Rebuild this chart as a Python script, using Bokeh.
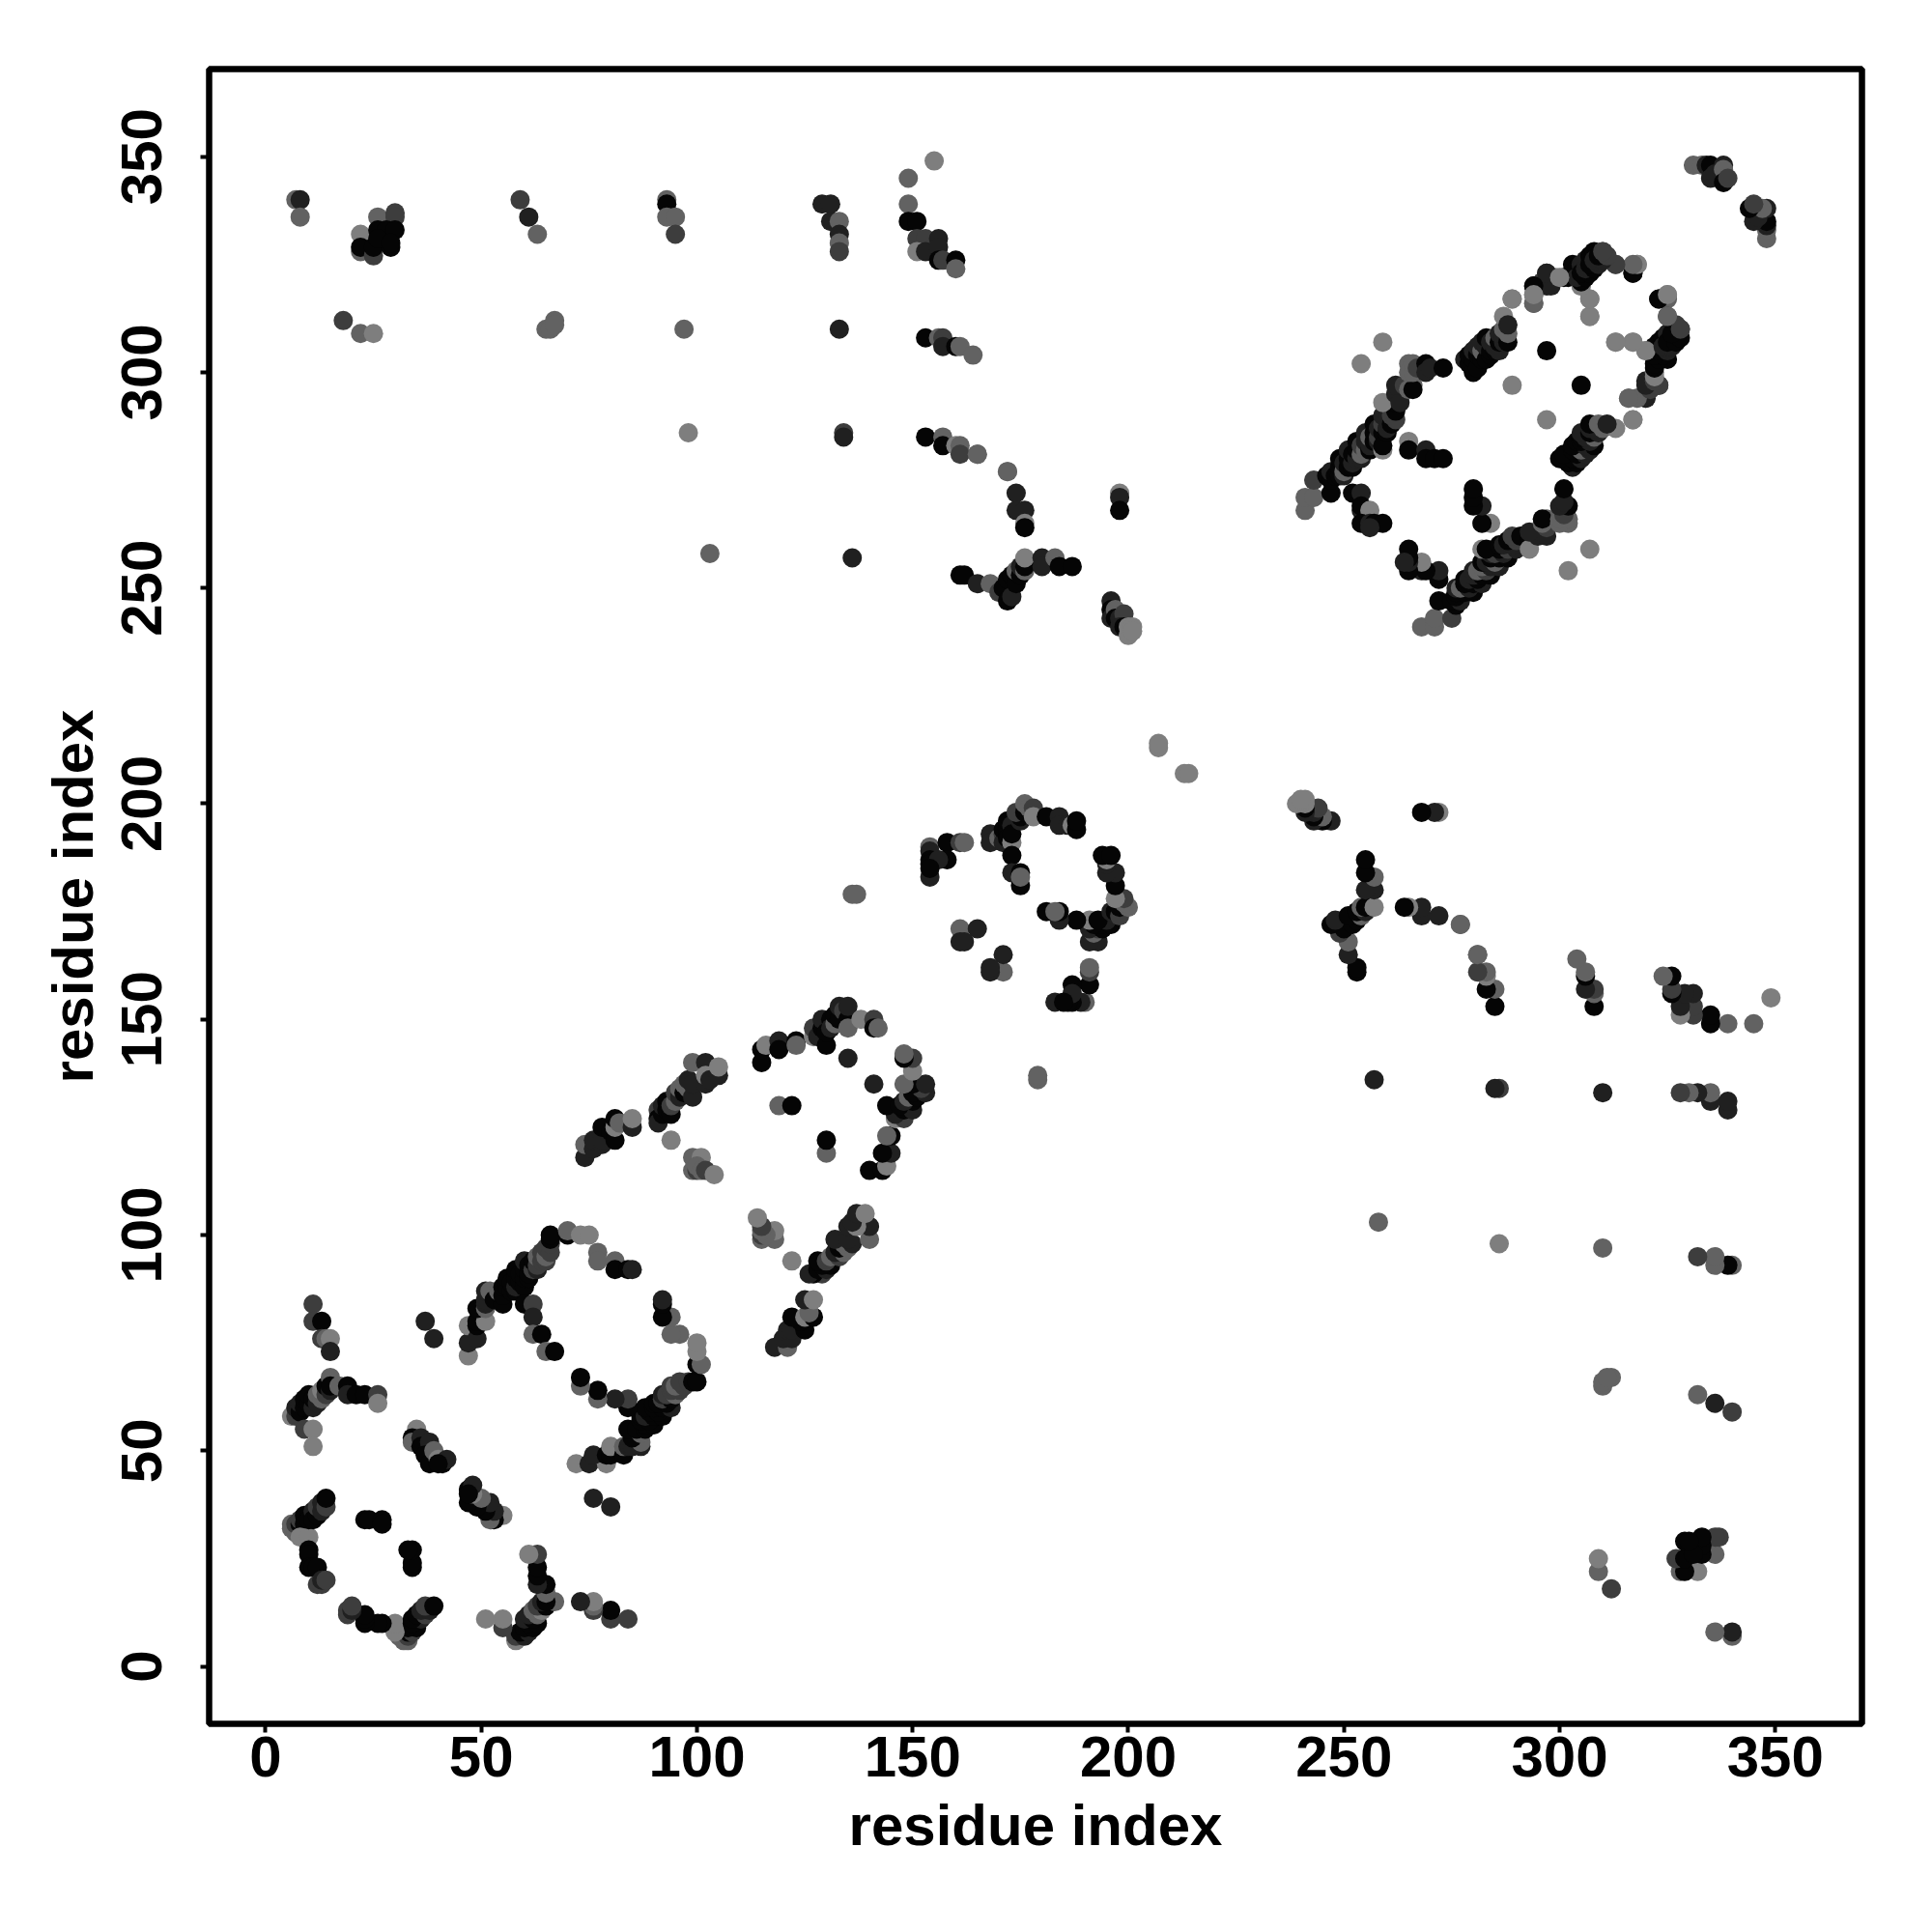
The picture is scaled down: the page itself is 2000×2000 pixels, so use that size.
from bokeh.plotting import figure
from bokeh.embed import file_html
from bokeh.resources import INLINE
from bokeh.models import FixedTicker, Range1d

# contacts as (residue i, residue j, shade level 0 = darkest .. 4 = lightest); the map is symmetric
ring_left = [(6,33,3),(6,32,3),(7,31,3),(7,33,2),(8,33,0),(8,34,2),(9,35,0),(9,33,0),(8,30,4),(10,30,4),(10,34,0),(11,36,1),(11,34,0),(12,35,0),(12,37,2),(13,36,1),(13,38,1),(14,37,2),(14,39,0),(10,27,0),(10,26,0),(10,23,0),(11,23,0),(12,23,0),(12,19,2),(13,19,2),(13,20,1),(14,20,2)]
ring_inner = [(23,34,0),(24,34,0),(27,34,0),(27,33,0)]
arc_58 = [(6,58,4),(7,58,2),(7,60,1),(8,59,0),(8,61,1),(9,60,0),(9,62,0),(10,61,0),(10,63,0),(11,60,1),(11,62,0),(12,61,1),(12,63,3),(13,62,3),(13,64,4),(14,63,2),(14,65,0),(15,64,1),(15,67,3),(15,65,0),(17,65,3),(19,65,0),(19,63,1),(21,63,0),(23,63,0),(26,63,2),(26,61,4),(9,55,2),(11,55,4),(11,51,4)]
spur_80 = [(11,84,2),(11,80,2),(13,80,0),(13,76,2),(14,76,3),(15,76,4),(15,73,1)]
cluster_50 = [(35,55,4),(34,53,0),(34,52,3),(36,53,1),(36,51,0),(38,52,1),(37,49,0),(38,47,0),(39,50,3),(40,48,4),(41,47,0),(42,48,1),(40,47,0),(37,80,1),(39,76,1)]
band_85 = [(47,72,4),(47,75,1),(47,79,4),(49,76,1),(49,79,0),(49,80,0),(51,80,4),(49,83,0),(51,83,3),(51,84,1),(51,85,1),(51,87,1),(52,87,3),(53,85,0),(54,87,3),(55,84,0),(55,86,0),(55,88,0),(56,88,0),(56,90,0),(57,87,0),(57,89,0),(58,87,0),(58,88,1),(58,90,0),(58,92,0),(59,89,0),(59,91,0),(60,88,0),(60,90,0),(60,92,0),(60,94,1),(61,90,0),(61,91,0),(61,93,0),(62,92,2),(62,94,0),(63,92,1),(63,93,2),(63,95,3),(64,94,2),(64,96,2),(65,94,2),(65,95,3),(65,97,2),(66,96,2),(66,98,2),(66,99,0),(66,100,0)]
stem_60 = [(60,84,0),(62,84,2),(62,81,1),(62,77,3),(64,77,0),(65,73,3),(67,73,0)]
top_100 = [(70,100,0),(70,101,3),(73,100,4),(75,100,4),(77,96,3),(77,94,3),(81,94,3),(81,92,0),(84,92,0),(85,92,1)]
segment_120 = [(74,118,1),(74,121,3),(76,120,1),(76,122,1),(78,121,1),(78,122,1),(78,125,0),(80,124,0),(81,122,0),(81,125,4),(81,127,0),(82,126,3),(85,125,1),(85,127,4)]
band_130 = [(91,129,2),(91,127,0),(91,126,1),(92,128,0),(92,130,1),(93,131,0),(93,129,0),(94,128,0),(94,130,2),(95,131,3),(95,133,2),(96,132,1),(96,134,3),(97,133,0),(97,135,3),(98,134,3),(98,136,1),(99,132,1),(99,135,1),(99,140,3),(102,140,1),(102,135,1),(102,137,4),(103,136,1),(105,137,1),(105,139,4),(94,122,4),(99,118,3),(101,118,4),(99,115,3),(100,115,2),(100,116,3),(101,115,3),(102,115,2),(104,114,4)]
arc_145 = [(115,140,0),(115,143,0),(116,144,4),(119,145,1),(119,143,0),(123,145,0),(123,144,3),(127,146,4),(127,148,2),(128,146,1),(129,148,0),(129,150,1),(130,144,0),(130,147,0),(131,150,0),(131,148,1),(132,149,3),(132,151,0),(133,150,0),(133,153,1),(134,152,2),(135,150,0),(135,153,1),(135,148,3),(138,150,4),(141,150,2),(141,148,0),(142,148,3),(135,141,1),(119,130,3),(122,130,0)]
segment_185 = [(154,190,3),(154,189,1),(158,191,0),(161,191,2),(162,191,3),(158,187,0),(154,187,0),(154,186,0),(154,183,1),(156,187,1),(154,185,0),(161,171,3),(165,171,1),(161,168,1),(162,168,1),(136,179,3),(137,179,3)]
arc_195 = [(168,193,1),(168,191,1),(170,192,3),(171,193,2),(171,191,1),(171,194,0),(172,194,0),(172,192,0),(172,196,0),(173,195,1),(173,191,4),(173,193,0),(173,188,0),(173,184,1),(175,184,0),(175,181,0),(175,183,3),(175,196,1),(175,197,0),(174,198,2),(176,198,0),(176,200,3),(177,199,3),(178,199,2),(178,197,4),(181,197,0),(184,197,1),(184,195,1),(186,195,1),(187,195,4),(188,194,0),(188,196,0)]
arc_255 = [(161,253,0),(162,253,0),(165,251,1),(168,251,3),(170,249,2),(171,250,0),(172,247,0),(172,252,0),(173,248,1),(173,253,0),(174,251,0),(174,254,3),(175,253,0),(175,255,1),(176,254,3),(176,255,0),(176,257,4),(180,257,1),(180,255,1),(183,257,3),(184,255,0),(187,255,0)]
run_270 = [(165,281,3),(172,277,3),(174,272,1),(174,268,1),(176,268,1),(176,265,4),(176,264,0),(198,272,4),(198,271,1),(198,268,0)]
tip_245 = [(196,247,1),(196,245,0),(196,243,1),(197,245,3),(197,243,0),(198,243,1),(199,244,2),(198,241,1),(199,241,0),(200,239,4),(200,241,4),(201,241,4),(201,240,4),(207,213,4),(207,214,4)]
long_340 = [(7,340,3),(8,340,1),(8,336,3),(26,336,3),(30,337,2),(30,336,2),(22,332,4),(26,333,0),(28,333,0),(30,333,0),(22,328,3),(22,329,0),(25,327,2),(25,329,0),(29,329,0),(26,331,0),(29,330,0),(59,340,2),(61,336,1),(63,332,3),(93,340,3),(93,339,0),(93,336,3),(95,336,3),(95,332,2)]
long_310 = [(18,312,2),(22,309,3),(25,309,4),(65,310,3),(66,310,3),(67,312,3),(67,311,3),(97,310,3),(98,286,4),(103,258,3),(133,310,1),(136,257,1)]
long_133 = [(129,339,1),(131,339,1),(131,335,1),(133,335,3),(133,332,1),(133,330,3),(133,328,2),(134,286,2),(134,285,1)]
long_155 = [(149,345,3),(155,349,4),(149,339,3),(149,335,0),(151,335,0),(151,331,2),(153,331,2),(156,331,1),(151,328,4),(153,328,1),(156,329,1),(156,326,0),(157,326,2),(160,326,0),(160,324,3),(153,308,0),(156,308,3),(157,308,2),(157,306,1),(160,306,0),(161,306,3),(164,304,3),(153,285,0),(157,285,3),(157,283,0),(160,283,4),(161,283,3),(161,281,2),(165,281,3),(172,277,3)]
chain_left = [(241,268,3),(241,271,3),(243,271,3),(243,275,2),(246,276,0),(247,272,0),(247,275,0),(247,277,1),(248,276,0),(249,276,0),(249,278,0),(249,280,0),(250,276,1),(250,277,3),(250,279,1),(251,278,0),(251,280,0),(251,282,1),(252,278,0),(252,279,1),(252,281,0),(253,280,1),(253,282,0),(253,284,0),(254,280,1),(254,281,3),(254,283,2),(255,282,3),(255,284,1),(255,286,1),(256,282,0),(256,283,1),(256,285,3),(257,284,0),(257,286,0),(257,288,0),(258,284,1),(258,285,2),(258,287,1),(259,286,0),(259,288,2),(259,290,1),(259,282,4),(259,283,0),(260,286,0),(260,287,1),(260,289,1),(261,288,0),(261,290,2),(262,289,2),(262,291,0),(262,293,0),(259,293,4),(262,295,1),(263,293,1),(262,297,1),(264,297,2),(265,296,3),(266,297,3),(266,296,0),(265,302,3),(265,300,3),(266,300,3),(266,302,3),(267,301,2),(269,302,0),(269,300,1),(270,301,1),(273,301,0),(254,302,4),(259,307,4)]
rungs_265 = [(265,284,4),(265,282,0),(269,282,1),(269,280,0),(271,280,0),(273,280,0),(252,272,0),(254,272,1),(254,268,1),(254,269,0),(256,268,4),(254,265,0),(256,265,1),(257,265,0),(259,265,0),(256,264,1)]
chain_upper = [(278,303,1),(279,302,0),(279,304,0),(280,300,0),(280,303,0),(280,305,1),(281,301,0),(281,304,0),(281,306,1),(282,303,0),(282,305,3),(282,307,1),(283,303,0),(283,306,1),(283,308,0),(284,304,0),(284,305,0),(284,307,1),(285,305,0),(285,306,1),(285,308,3),(286,305,1),(286,307,0),(286,309,1),(287,307,1),(287,308,1),(287,310,3),(287,313,4),(288,307,0),(288,309,3),(288,311,1),(289,317,4),(294,320,1),(294,318,3),(294,316,3),(296,321,2),(297,323,2),(297,320,1),(298,322,2),(299,322,4),(301,322,0),(302,322,0),(303,323,0),(303,325,0),(304,324,0),(304,322,0),(305,323,0),(305,325,1),(305,320,4),(306,324,1),(306,326,1),(307,317,4),(307,313,4),(307,325,0),(307,327,0),(308,328,0),(309,326,0),(310,328,2),(313,325,3),(317,323,0),(318,325,4),(297,305,0),(289,297,4)]
chain_right = [(317,289,4),(313,307,4),(317,307,4),(320,305,4),(323,317,0),(325,318,4),(325,317,3),(325,313,2),(321,305,0),(322,304,1),(322,306,0),(323,305,0),(323,307,0),(324,306,1),(324,308,0),(325,307,0),(325,309,1),(326,308,1),(326,310,1),(327,309,0),(327,311,2),(328,310,2),(320,298,1),(323,297,1),(320,294,0),(316,294,3),(318,294,4),(322,300,4)]
tip_345 = [(331,348,3),(333,348,3),(334,348,1),(335,348,0),(338,348,1),(335,345,1),(336,346,1),(338,347,3),(338,344,0),(339,345,2)]
x_ticks = [0, 50, 100, 150, 200, 250, 300, 350]
y_ticks = [0, 50, 100, 150, 200, 250, 300, 350]
axis_title = "residue index"
shades = ["#050505", "#202020", "#3d3d3d", "#626262", "#7e7e7e"]

groups = [ring_left, ring_inner, arc_58, spur_80, cluster_50, band_85, stem_60, top_100, segment_120,
          band_130, arc_145, segment_185, arc_195, arc_255, run_270, tip_245, long_340, long_310,
          long_133, long_155, chain_left, rungs_265, chain_upper, chain_right, tip_345]

xs, ys, cs = [], [], []
for group in groups:
    for i, j, level in group:
        xs.append(i); ys.append(j); cs.append(shades[level])
for group in groups:
    for i, j, level in group:
        xs.append(j); ys.append(i); cs.append(shades[level])

FONT = "Liberation Sans"
p = figure(width=1980, height=1980, output_backend="svg", toolbar_location=None,
           x_range=Range1d(-13.1, 370.1), y_range=Range1d(-13.3, 370.3),
           frame_width=1711, frame_height=1713)
p.min_border_left = 216
p.min_border_top = 71
p.min_border_right = 40
p.min_border_bottom = 150
p.grid.visible = False
p.background_fill_color = "white"
p.outline_line_color = "black"
p.outline_line_width = 6.5

p.scatter(xs, ys, size=20, fill_color=cs, line_color=None, marker="circle")

for ax, ticks in ((p.xaxis[0], x_ticks), (p.yaxis[0], y_ticks)):
    ax.ticker = FixedTicker(ticks=ticks)
    ax.axis_line_color = None
    ax.major_tick_line_color = "black"
    ax.major_tick_line_width = 4
    ax.major_tick_in = 0
    ax.major_tick_out = 9
    ax.minor_tick_line_color = None
    ax.major_label_text_font = FONT
    ax.major_label_text_font_style = "bold"
    ax.major_label_text_font_size = "60px"
    ax.major_label_text_color = "black"
    ax.axis_label = axis_title
    ax.axis_label_text_font = FONT
    ax.axis_label_text_font_style = "bold"
    ax.axis_label_text_font_size = "60px"
    ax.axis_label_text_color = "black"
p.yaxis[0].major_label_orientation = "vertical"
p.xaxis[0].major_label_standoff = 4
p.yaxis[0].major_label_standoff = 40
p.xaxis[0].axis_label_standoff = 14
p.yaxis[0].axis_label_standoff = 15

open("out.html", "w").write(file_html(p, INLINE))
